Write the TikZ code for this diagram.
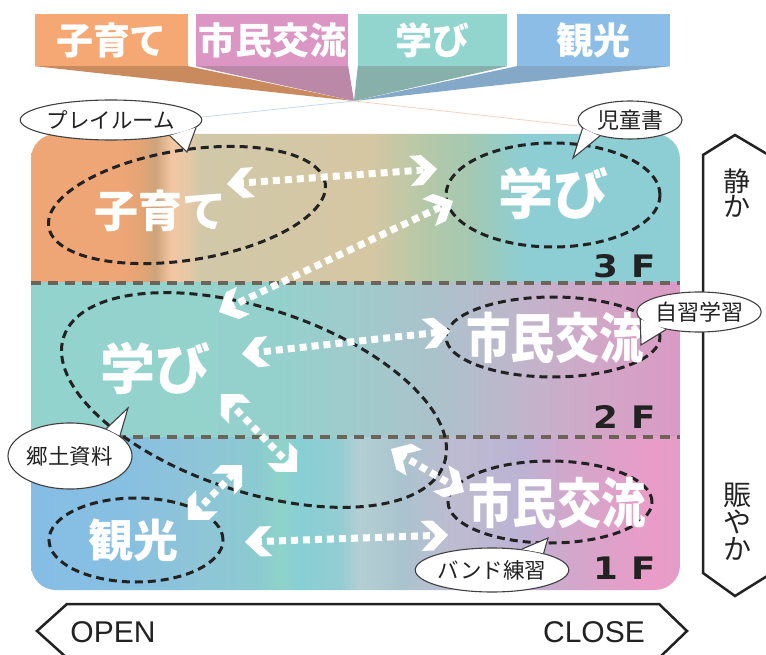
\documentclass[tikz,border=0pt]{standalone}
\usepackage{fontspec}
\setmainfont{Liberation Sans}
\newfontfamily\jp{Noto Sans CJK JP}
\newfontfamily\dvs{DejaVu Sans}
\usetikzlibrary{shapes.geometric,arrows.meta}

\definecolor{tabO}{HTML}{F5A873}
\definecolor{tabP}{HTML}{DB96C3}
\definecolor{tabT}{HTML}{92D4CE}
\definecolor{tabB}{HTML}{8CBDE6}
\definecolor{shO}{HTML}{C98A5E}
\definecolor{shP}{HTML}{BC88A7}
\definecolor{shT}{HTML}{87B0AA}
\definecolor{shB}{HTML}{84A8C8}
\definecolor{ink}{HTML}{222222}
\definecolor{floorgray}{HTML}{6C645A}
\definecolor{faintB}{HTML}{C6D8EA}
\definecolor{faintO}{HTML}{F2D2C0}

% 3F band
\definecolor{b3a}{HTML}{EFA677}
\definecolor{b3b}{HTML}{E4A474}
\definecolor{b3c}{HTML}{CDA47B}
\definecolor{b3d}{HTML}{F3C6A2}
\definecolor{b3e}{HTML}{E6C8A7}
\definecolor{b3f}{HTML}{D0C8A9}
\definecolor{b3g}{HTML}{D6C7A3}
\definecolor{b3h}{HTML}{B3C8A8}
\definecolor{b3i}{HTML}{A5C8B2}
\definecolor{b3j}{HTML}{96CCC4}
\definecolor{b3k}{HTML}{8CCED4}
% 2F band
\definecolor{b2a}{HTML}{93D3CD}
\definecolor{b2b}{HTML}{95D1CC}
\definecolor{b2c}{HTML}{A3C8CB}
\definecolor{b2d}{HTML}{AEC0CB}
\definecolor{b2e}{HTML}{C0B5CB}
\definecolor{b2f}{HTML}{D2A6C7}
\definecolor{b2g}{HTML}{DA9AC5}
% 1F band
\definecolor{b1a}{HTML}{86BDE5}
\definecolor{b1b}{HTML}{87BFE2}
\definecolor{b1c}{HTML}{8EC5D7}
\definecolor{b1d}{HTML}{8BCBD0}
\definecolor{b1e}{HTML}{8FD3C8}
\definecolor{b1f}{HTML}{87CFD4}
\definecolor{b1g}{HTML}{93CDD2}
\definecolor{b1h}{HTML}{B4CFD3}
\definecolor{b1i}{HTML}{A9C4CE}
\definecolor{b1j}{HTML}{BDBCD0}
\definecolor{b1k}{HTML}{BCB3D4}
\definecolor{b1l}{HTML}{D2A7CB}
\definecolor{b1m}{HTML}{EA9CC8}
\definecolor{b1n}{HTML}{E49DC8}

\pgfdeclarehorizontalshading{shThree}{100bp}{color(0bp)=(b3a); color(25bp)=(b3a); color(31.9bp)=(b3a); color(33.4bp)=(b3b); color(34.6bp)=(b3c); color(35.8bp)=(b3d); color(37bp)=(b3e); color(38.2bp)=(b3f); color(51.1bp)=(b3g); color(55.7bp)=(b3h); color(58.8bp)=(b3i); color(61.1bp)=(b3j); color(63.1bp)=(b3k); color(75bp)=(b3k); color(100bp)=(b3k)}
\pgfdeclarehorizontalshading{shTwo}{100bp}{color(0bp)=(b2a); color(25bp)=(b2a); color(44.2bp)=(b2b); color(51.9bp)=(b2c); color(57.3bp)=(b2d); color(62.7bp)=(b2e); color(68.8bp)=(b2f); color(75bp)=(b2g); color(100bp)=(b2g)}
\pgfdeclarehorizontalshading{shOne}{100bp}{color(0bp)=(b1a); color(25bp)=(b1a); color(31.9bp)=(b1b); color(38bp)=(b1c); color(42.6bp)=(b1d); color(44.2bp)=(b1e); color(45.7bp)=(b1f); color(48.8bp)=(b1g); color(50.3bp)=(b1h); color(53.4bp)=(b1i); color(57.3bp)=(b1j); color(62.7bp)=(b1k); color(66.5bp)=(b1l); color(72.7bp)=(b1m); color(75bp)=(b1n); color(100bp)=(b1n)}

\pgfdeclarearrow{
  name = Chev,
  parameters = {},
  setup code = {
    \pgfarrowssettipend{0pt}
    \pgfarrowssetlineend{-10pt}
    \pgfarrowssetvisualbackend{-27pt}
    \pgfarrowssetbackend{-27pt}
    \pgfarrowshullpoint{0pt}{0pt}
    \pgfarrowsupperhullpoint{-27pt}{15pt}
  },
  drawing code = {
    \pgfpathmoveto{\pgfqpoint{0pt}{0pt}}
    \pgfpathlineto{\pgfqpoint{-15pt}{15pt}}
    \pgfpathlineto{\pgfqpoint{-27pt}{15pt}}
    \pgfpathlineto{\pgfqpoint{-12pt}{0pt}}
    \pgfpathlineto{\pgfqpoint{-27pt}{-15pt}}
    \pgfpathlineto{\pgfqpoint{-15pt}{-15pt}}
    \pgfpathclose
    \pgfusepathqfill
  }
}

\tikzset{
  tab/.style={inner sep=0pt, minimum height=52pt, text=white,
    font=\jp\bfseries\fontsize{37}{40}\selectfont},
  ell/.style={ellipse, draw=ink, line width=3pt, dash pattern=on 8pt off 5pt, inner sep=0pt},
  dotarrow/.style={draw=white, line width=7pt, dash pattern=on 7pt off 5pt, Chev-Chev},
  lab/.style={text=white, inner sep=0pt, font=\jp\bfseries\fontsize{#1}{#1}\selectfont},
  lab/.default=44,
  callout/.style={ellipse, fill=white, draw=black!75, line width=1.1pt, inner sep=0pt,
    text=ink, font=\jp\fontsize{21.5}{23}\selectfont},
  tail/.style={draw=black!75, line width=1.1pt},
  floorline/.style={draw=floorgray, line width=3.5pt, dash pattern=on 10pt off 7pt},
  floorlab/.style={text=ink, inner sep=0pt, font=\dvs\bfseries\fontsize{31}{31}\selectfont, xscale=1.15},
  outline/.style={draw=ink, line width=2.5pt, fill=white, line join=miter},
  vlab/.style={text=ink, align=center, inner sep=0pt},
}

\begin{document}
\begin{tikzpicture}[x=1pt,y=-1pt]
\useasboundingbox (0,0) rectangle (766,655);

% ---- tabs and shadows
\coordinate (conv) at (354,101);
\node[tab, fill=tabO, minimum width=153pt] (t1) at (111.5,40) {子育て};
\node[tab, fill=tabP, minimum width=152pt] (t2) at (272,40) {市民交流};
\node[tab, fill=tabT, minimum width=149pt] (t3) at (432.5,40) {学び};
\node[tab, fill=tabB, minimum width=153pt] (t4) at (593.5,40) {観光};
\fill[shO] (t1.south west) -- (t1.south east) -- (conv) -- cycle;
\fill[shP] (t2.south west) -- (t2.south east) -- (conv) -- cycle;
\fill[shT] (t3.south west) -- (t3.south east) -- (conv) -- cycle;
\fill[shB] (t4.south west) -- (t4.south east) -- (conv) -- cycle;

% ---- panel
\begin{scope}
  \clip[rounded corners=25pt] (31,134) rectangle (680,590);
  \path[shading=shThree] (31,134) rectangle (680,283);
  \path[shading=shTwo] (31,283) rectangle (680,437);
  \path[shading=shOne] (31,437) rectangle (680,590);
\end{scope}
\draw[floorline] (31,283) -- (680,283);
\draw[floorline] (31,437) -- (680,437);

% ---- floor labels
\node[floorlab] (f3a) at (606,266) {3};
\node[floorlab] (f3b) at (644,266) {F};
\node[floorlab] (f2a) at (606,417) {2};
\node[floorlab] (f2b) at (644,417) {F};
\node[floorlab] (f1a) at (606,568) {1};
\node[floorlab] (f1b) at (644,568) {F};

% ---- dashed ellipses
\node[ell, minimum width=280pt, minimum height=110pt, rotate=9] (eKoso) at (187,205) {};
\node[ell, minimum width=214pt, minimum height=104pt] (eMan3) at (553,195) {};
\node[ell, minimum width=401pt, minimum height=183pt, rotate=-18.35] (eMan2) at (254,400) {};
\node[ell, minimum width=214pt, minimum height=80pt] (eShi2) at (553,337) {};
\node[ell, minimum width=204pt, minimum height=82pt] (eShi1) at (550,502) {};
\node[ell, minimum width=174pt, minimum height=84pt] (eKan) at (136,540) {};

% ---- white labels
\node[lab=44] (lKoso) at (160,211) {子育て};
\node[lab=55] (lMan3) at (553,193) {学び};
\node[lab=55] (lMan2) at (155,368) {学び};
\node[lab=54, xscale=0.82] (lShi2) at (555,338) {市民交流};
\node[lab=54, xscale=0.82] (lShi1) at (557,503) {市民交流};
\node[lab=45] (lKan) at (133,540) {観光};

% ---- arrows
\coordinate (a1s) at (227,184); \coordinate (a1e) at (437,169);
\coordinate (a2s) at (219,312); \coordinate (a2e) at (453,201);
\coordinate (a3s) at (242,354); \coordinate (a3e) at (450,331);
\coordinate (a4s) at (221,394); \coordinate (a4e) at (297,472);
\coordinate (a5s) at (188,520); \coordinate (a5e) at (242,465);
\coordinate (a6s) at (245,542); \coordinate (a6e) at (448,535);
\coordinate (a7s) at (391,449); \coordinate (a7e) at (464,492);
\draw[dotarrow] (a1s) -- (a1e);
\draw[dotarrow] (a2s) -- (a2e);
\draw[dotarrow] (a3s) -- (a3e);
\draw[dotarrow] (a4s) -- (a4e);
\draw[dotarrow] (a5s) -- (a5e);
\draw[dotarrow] (a6s) -- (a6e);
\draw[dotarrow] (a7s) -- (a7e);

% ---- right and bottom scale arrows
\draw[outline] (703,155) -- (735,135) -- (772,157) -- (772,573) -- (735,596) -- (703,573) -- cycle;
\node[vlab, font=\jp\fontsize{27}{25}\selectfont] (quiet) at (737,193) {静\\か};
\node[vlab, font=\jp\fontsize{28}{27}\selectfont] (lively) at (737,522) {賑\\や\\か};
\draw[outline] (67,604) -- (37,631) -- (67,658) -- (659,658) -- (687,631) -- (659,604) -- cycle;
\node[text=ink, inner sep=0pt, font=\fontsize{30}{30}\selectfont] (open) at (113,632) {OPEN};
\node[text=ink, inner sep=0pt, font=\fontsize{30}{30}\selectfont] (close) at (594,632) {CLOSE};

% ---- callouts
\draw[faintB, line width=0.8pt] (conv) -- (184,119);
\draw[faintO, line width=0.8pt] (conv) -- (578,126);

\node[callout, minimum width=144pt, minimum height=40pt] (cPlay) at (111,120) {プレイルーム};
\coordinate (tPlay) at (187,152);
\fill[white] (cPlay.-15) -- (tPlay) -- (cPlay.-5) -- cycle;
\draw[tail] (cPlay.-15) -- (tPlay) -- (cPlay.-5);

\node[callout, minimum width=104pt, minimum height=38pt, font=\jp\fontsize{22}{23}\selectfont] (cJido) at (630,120) {児童書};
\coordinate (tJido) at (573,158);
\fill[white] (cJido.-170) -- (tJido) -- (cJido.-152) -- cycle;
\draw[tail] (cJido.-170) -- (tJido) -- (cJido.-152);

\node[callout, minimum width=102pt, minimum height=40pt, font=\jp\fontsize{22}{23}\selectfont] (cJishu) at (699,312) {自習学習};
\coordinate (tJishu) at (641,345);
\fill[white] (cJishu.-173) -- (tJishu) -- (cJishu.-152) -- cycle;
\draw[tail] (cJishu.-173) -- (tJishu) -- (cJishu.-152);

\node[callout, minimum width=124pt, minimum height=66pt] (cKyodo) at (70,456) {郷土資料};
\coordinate (tKyodo) at (128,408);
\fill[white] (cKyodo.37) -- (tKyodo) -- (cKyodo.22) -- cycle;
\draw[tail] (cKyodo.37) -- (tKyodo) -- (cKyodo.22);

\node[callout, minimum width=122pt, minimum height=44pt] (cBand) at (492,570) {バンド練習};
\coordinate (tBand) at (548,538);
\fill[white] (cBand.35) -- (tBand) -- (cBand.18) -- cycle;
\draw[tail] (cBand.35) -- (tBand) -- (cBand.18);
\end{tikzpicture}
\end{document}
